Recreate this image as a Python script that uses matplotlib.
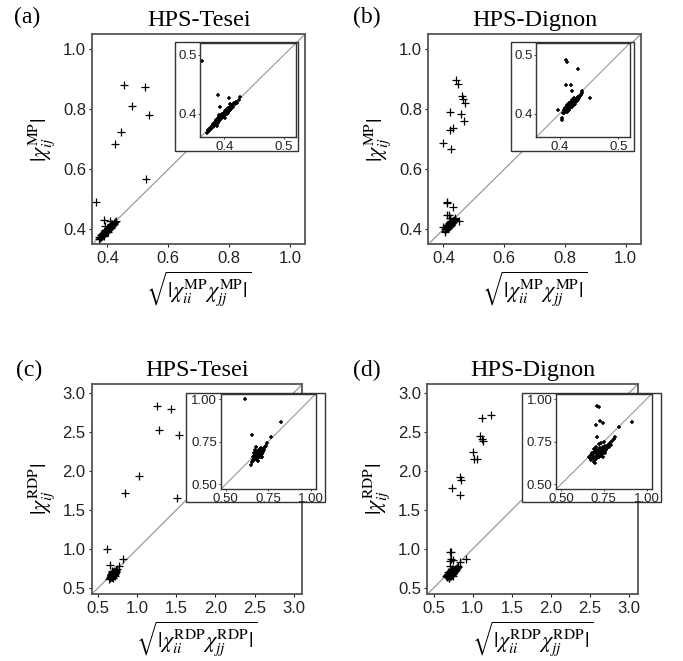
import matplotlib
matplotlib.use('Agg')
import matplotlib.pyplot as plt
from matplotlib.patches import Rectangle
from matplotlib.ticker import FormatStrFormatter

plt.rcParams['mathtext.fontset'] = 'stix'
plt.rcParams['font.family'] = ['Liberation Sans', 'DejaVu Sans']

# ---- data ----
# (a) HPS-Tesei, MP
a_out_x = [0.453, 0.523, 0.481, 0.538, 0.446, 0.426, 0.526, 0.363, 0.389, 0.408, 0.393, 0.427]
a_out_y = [0.880, 0.876, 0.811, 0.780, 0.726, 0.686, 0.567, 0.490, 0.431, 0.427, 0.412, 0.429]
a_clu_x = [0.371, 0.373, 0.375, 0.376, 0.378, 0.379, 0.381, 0.382, 0.383, 0.385, 0.386, 0.387,
           0.389, 0.390, 0.391, 0.392, 0.393, 0.395, 0.396, 0.397, 0.398, 0.399, 0.400, 0.401,
           0.402, 0.403, 0.404, 0.405, 0.406, 0.407, 0.408, 0.409, 0.410, 0.411, 0.412, 0.413,
           0.415, 0.416, 0.418, 0.420, 0.422, 0.424, 0.392, 0.396, 0.401, 0.405, 0.388, 0.410]
a_clu_y = [0.368, 0.373, 0.370, 0.376, 0.374, 0.380, 0.377, 0.383, 0.379, 0.386, 0.382, 0.389,
           0.385, 0.392, 0.388, 0.394, 0.390, 0.397, 0.392, 0.399, 0.394, 0.401, 0.396, 0.404,
           0.398, 0.406, 0.400, 0.407, 0.402, 0.409, 0.404, 0.411, 0.406, 0.413, 0.408, 0.415,
           0.411, 0.418, 0.416, 0.420, 0.418, 0.423, 0.398, 0.396, 0.392, 0.401, 0.379, 0.417]

# (b) HPS-Dignon, MP
b_out_x = [0.440, 0.448, 0.462, 0.466, 0.471, 0.423, 0.457, 0.468, 0.431, 0.422, 0.398, 0.426,
           0.411, 0.412, 0.432, 0.411, 0.419, 0.422, 0.439, 0.452, 0.398, 0.404, 0.405]
b_out_y = [0.897, 0.886, 0.844, 0.833, 0.822, 0.792, 0.783, 0.761, 0.737, 0.731, 0.689, 0.667,
           0.492, 0.488, 0.476, 0.448, 0.448, 0.438, 0.438, 0.427, 0.407, 0.393, 0.390]
b_clu_x = [0.406, 0.407, 0.408, 0.409, 0.410, 0.410, 0.411, 0.412, 0.412, 0.413, 0.414, 0.414,
           0.415, 0.416, 0.416, 0.417, 0.418, 0.418, 0.419, 0.420, 0.420, 0.421, 0.422, 0.422,
           0.423, 0.424, 0.424, 0.425, 0.426, 0.426, 0.427, 0.428, 0.429, 0.430, 0.431, 0.432,
           0.433, 0.435, 0.437, 0.439, 0.413, 0.417, 0.421, 0.425, 0.419]
b_clu_y = [0.402, 0.406, 0.401, 0.408, 0.404, 0.410, 0.406, 0.403, 0.411, 0.408, 0.405, 0.413,
           0.409, 0.407, 0.415, 0.411, 0.409, 0.416, 0.413, 0.411, 0.418, 0.415, 0.412, 0.420,
           0.417, 0.414, 0.421, 0.419, 0.416, 0.423, 0.420, 0.424, 0.422, 0.426, 0.424, 0.428,
           0.427, 0.430, 0.432, 0.436, 0.415, 0.419, 0.423, 0.427, 0.420]

# (c) HPS-Tesei, RDP
c_out_x = [1.256, 1.427, 1.274, 1.534, 1.026, 0.842, 1.504, 0.611, 0.824, 0.655, 0.769, 0.676, 0.647]
c_out_y = [2.829, 2.799, 2.530, 2.466, 1.940, 1.722, 1.654, 0.999, 0.867, 0.789, 0.779, 0.721, 0.613]
c_clu_x = [0.652, 0.658, 0.661, 0.664, 0.667, 0.669, 0.671, 0.673, 0.675, 0.676, 0.678, 0.680,
           0.681, 0.683, 0.684, 0.686, 0.688, 0.689, 0.691, 0.692, 0.694, 0.696, 0.697, 0.699,
           0.701, 0.703, 0.705, 0.707, 0.709, 0.712, 0.715, 0.718, 0.722, 0.726, 0.731, 0.736,
           0.742, 0.673, 0.687, 0.700, 0.714, 0.666, 0.693, 0.708]
c_clu_y = [0.628, 0.645, 0.662, 0.650, 0.668, 0.640, 0.657, 0.675, 0.648, 0.663, 0.682, 0.655,
           0.670, 0.644, 0.688, 0.662, 0.676, 0.652, 0.693, 0.668, 0.659, 0.681, 0.700, 0.664,
           0.686, 0.672, 0.695, 0.661, 0.680, 0.698, 0.676, 0.690, 0.708, 0.702, 0.719, 0.726,
           0.740, 0.702, 0.635, 0.708, 0.660, 0.685, 0.678, 0.715]

# (d) HPS-Dignon, RDP
d_out_x = [1.124, 1.239, 1.098, 1.124, 1.132, 1.004, 1.017, 1.060, 0.833, 0.855, 0.735, 0.842,
           0.712, 0.722, 0.728, 0.743, 0.704, 0.841, 0.913, 0.712]
d_out_y = [2.684, 2.714, 2.444, 2.410, 2.380, 2.239, 2.158, 2.158, 1.923, 1.889, 1.786, 1.688,
           0.960, 0.956, 0.873, 0.858, 0.848, 0.838, 0.867, 0.779]
d_clu_x = [0.662, 0.668, 0.672, 0.676, 0.680, 0.683, 0.686, 0.689, 0.692, 0.695, 0.698, 0.700,
           0.703, 0.705, 0.708, 0.710, 0.713, 0.715, 0.718, 0.720, 0.723, 0.726, 0.728, 0.731,
           0.734, 0.737, 0.740, 0.743, 0.746, 0.750, 0.754, 0.758, 0.762, 0.767, 0.772, 0.778,
           0.785, 0.792, 0.800, 0.810, 0.818, 0.690, 0.705, 0.720, 0.735, 0.750, 0.700, 0.745]
d_clu_y = [0.660, 0.652, 0.672, 0.640, 0.665, 0.683, 0.655, 0.676, 0.632, 0.690, 0.662, 0.645,
           0.681, 0.698, 0.668, 0.652, 0.688, 0.703, 0.672, 0.660, 0.694, 0.678, 0.710, 0.668,
           0.688, 0.700, 0.676, 0.716, 0.692, 0.705, 0.684, 0.722, 0.700, 0.712, 0.730, 0.716,
           0.740, 0.728, 0.752, 0.765, 0.778, 0.708, 0.718, 0.735, 0.745, 0.748, 0.625, 0.660]

titles = ['HPS-Tesei', 'HPS-Dignon', 'HPS-Tesei', 'HPS-Dignon']
letters = ['(a)', '(b)', '(c)', '(d)']
mp_ticks = [0.4, 0.6, 0.8, 1.0]
rdp_ticks = [0.5, 1.0, 1.5, 2.0, 2.5, 3.0]
mp_inset_ticks = [0.4, 0.5]
rdp_inset_ticks = [0.5, 0.75, 1.0]

W, H = 683, 661


def px(x0, y0, x1, y1):
    # pixel box (top-left origin) -> figure fraction
    return [x0 / W, 1 - y1 / H, (x1 - x0) / W, (y1 - y0) / H]


def panel(fig, main_box, in_box, frame_box, xs, ys, lims, ticks, inlims, inticks,
          infmt, kind, title, letter, letter_xy):
    ax = fig.add_axes(px(*main_box))
    ax.axline((0, 0), slope=1, color='#999999', lw=0.9, zorder=1)
    ax.plot(xs, ys, '+', color='k', ms=5.5, mew=0.9, zorder=2)
    ax.set_xlim(lims)
    ax.set_ylim(lims)
    ax.set_xticks(ticks)
    ax.set_yticks(ticks)
    ax.xaxis.set_major_formatter(FormatStrFormatter('%.1f'))
    ax.yaxis.set_major_formatter(FormatStrFormatter('%.1f'))
    ax.tick_params(labelsize=12, length=2.5, width=0.8, pad=2, colors='#222222')
    for s in ax.spines.values():
        s.set_color('#555555')
        s.set_linewidth(1.3)
    ax.set_title(title, fontsize=17.5, family='Liberation Serif', pad=6)
    ax.set_ylabel(r'$|\chi_{ij}^{\mathrm{%s}}|$' % kind, fontsize=16, labelpad=4)
    ax.set_xlabel(r'$\sqrt{|\chi_{ii}^{\mathrm{%s}}\chi_{jj}^{\mathrm{%s}}|}$' % (kind, kind),
                  fontsize=16, labelpad=3)
    fig.text(letter_xy[0] / W, 1 - letter_xy[1] / H, letter, fontsize=17,
             family='Liberation Serif', ha='left', va='center')

    # white box behind the inset (holds its tick labels)
    fx, fy, fw, fh = px(*frame_box)
    ax.add_patch(Rectangle((fx, fy), fw, fh, transform=fig.transFigure, clip_on=False,
                           facecolor='white', edgecolor='#333333', lw=1.0, zorder=10))

    ins = fig.add_axes(px(*in_box))
    ins.axline((0, 0), slope=1, color='#999999', lw=0.8, zorder=1)
    ins.plot(xs, ys, '+', color='k', ms=2.5, mew=1.1, zorder=2)
    ins.set_xlim(inlims)
    ins.set_ylim(inlims)
    ins.set_xticks(inticks)
    ins.set_yticks(inticks)
    ins.xaxis.set_major_formatter(FormatStrFormatter(infmt))
    ins.yaxis.set_major_formatter(FormatStrFormatter(infmt))
    ins.tick_params(labelsize=9.5, length=1.5, width=0.6, pad=1, colors='#222222')
    for s in ins.spines.values():
        s.set_color('#333333')
        s.set_linewidth(1.0)


fig = plt.figure(figsize=(6.83, 6.61), dpi=100)

panel(fig, (92.3, 34.3, 305, 244.3), (200.3, 43, 296, 137.3), (175, 42, 298, 151),
      a_out_x + a_clu_x, a_out_y + a_clu_y, (0.35, 1.05), mp_ticks, (0.36, 0.52),
      mp_inset_ticks, '%.1f', 'MP', titles[0], letters[0], (14, 17))
panel(fig, (428.3, 34.3, 640.7, 244.3), (536, 43, 630, 137.3), (511, 42, 634, 151),
      b_out_x + b_clu_x, b_out_y + b_clu_y, (0.35, 1.05), mp_ticks, (0.36, 0.52),
      mp_inset_ticks, '%.1f', 'MP', titles[1], letters[1], (353, 17))
panel(fig, (91.7, 384.3, 302.3, 594.3), (220.7, 394, 315.7, 489.3), (185.7, 392.7, 325, 502.3),
      c_out_x + c_clu_x, c_out_y + c_clu_y, (0.42, 3.11), rdp_ticks, (0.47, 1.03),
      rdp_inset_ticks, '%.2f', 'RDP', titles[2], letters[2], (16, 370))
panel(fig, (427.3, 384.3, 637.7, 594.3), (556, 394, 651.7, 489.3), (522.3, 392.7, 661, 502.3),
      d_out_x + d_clu_x, d_out_y + d_clu_y, (0.42, 3.11), rdp_ticks, (0.47, 1.03),
      rdp_inset_ticks, '%.2f', 'RDP', titles[3], letters[3], (353, 370))

fig.savefig('out.png', dpi=100)
